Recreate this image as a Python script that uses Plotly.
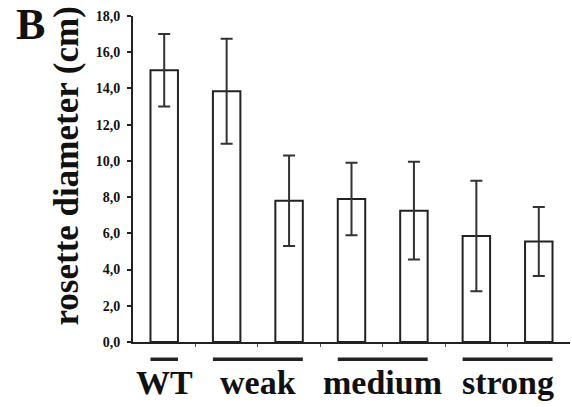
import plotly.graph_objects as go

# Data
categories = ["WT", "weak 1", "weak 2", "medium 1", "medium 2", "strong 1", "strong 2"]
means = [15.0, 13.85, 7.8, 7.9, 7.25, 5.85, 5.55]
errors = [2.0, 2.9, 2.5, 2.0, 2.7, 3.05, 1.9]
group_labels = ["WT", "weak", "medium", "strong"]
group_members = [[0], [1, 2], [3, 4], [5, 6]]
y_ticks = [0, 2, 4, 6, 8, 10, 12, 14, 16, 18]

xpos = list(range(len(categories)))
bar_w = 0.44
serif = "Liberation Serif"

fig = go.Figure()
fig.add_trace(go.Bar(
    x=xpos, y=means, width=bar_w,
    marker=dict(color="white", line=dict(color="#222", width=2)),
    error_y=dict(type="data", array=errors, visible=True, color="#333", thickness=2, width=6),
    hovertext=categories,
))

shapes = []
annotations = []
for lab, mem in zip(group_labels, group_members):
    x0 = min(mem) - bar_w / 2
    x1 = max(mem) + bar_w / 2
    shapes.append(dict(type="line", xref="x", yref="paper", x0=x0, x1=x1, y0=-0.053, y1=-0.053,
                       line=dict(color="#222", width=3.5)))
    annotations.append(dict(text=lab, xref="x", yref="paper", x=(min(mem) + max(mem)) / 2, y=-0.125,
                            showarrow=False, xanchor="center", yanchor="middle",
                            font=dict(family=serif, size=34, color="#111", weight="bold")))

annotations.append(dict(text="rosette diameter (cm)", xref="paper", yref="paper", x=-0.152, y=0.54,
                        textangle=-90, showarrow=False, xanchor="center", yanchor="middle",
                        font=dict(family=serif, size=35, color="#111", weight="bold")))
annotations.append(dict(text="B", xref="paper", yref="paper", x=-0.235, y=0.975,
                        showarrow=False, xanchor="center", yanchor="middle",
                        font=dict(family=serif, size=44, color="#111", weight="bold")))

fig.update_layout(
    width=572, height=407,
    margin=dict(l=133, r=2, t=16, b=65),
    paper_bgcolor="white", plot_bgcolor="white",
    separators=",.",
    showlegend=False,
    shapes=shapes,
    annotations=annotations,
    xaxis=dict(range=[-0.5, 6.5], showgrid=False, zeroline=False, showline=True, linecolor="#222",
               linewidth=2, ticks="outside", ticklen=3, tickwidth=1, tickcolor="#555",
               tickvals=[i + 0.5 for i in range(len(categories) - 1)], showticklabels=False),
    yaxis=dict(range=[0, 18], showgrid=False, zeroline=False, showline=True, linecolor="#222",
               linewidth=2, ticks="outside", ticklen=4, tickwidth=1.5, tickcolor="#222",
               tickvals=y_ticks, tickformat=".1f", ticklabelstandoff=4,
               tickfont=dict(family=serif, size=14, color="#111", weight="bold")),
)

fig.write_html("out.html", config={"displayModeBar": False},
               post_script="document.body.style.margin='0';")
